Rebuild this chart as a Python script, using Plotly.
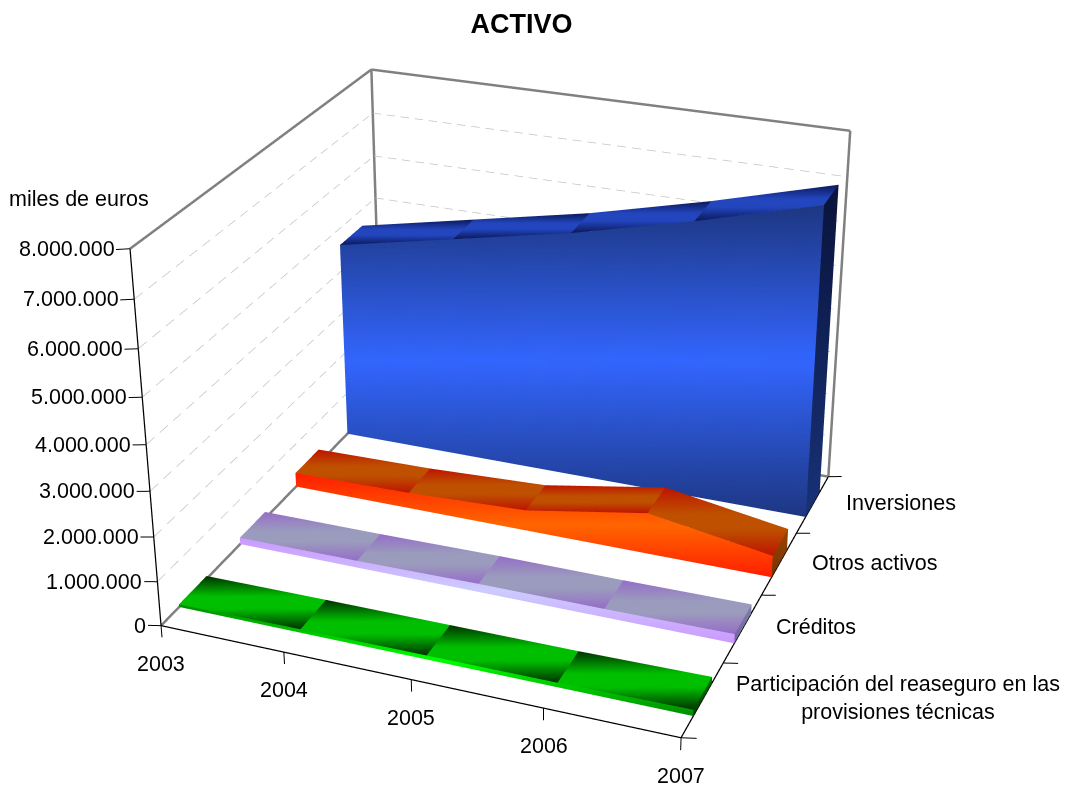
import numpy as np
import plotly.graph_objects as go

years = [2003, 2004, 2005, 2006, 2007]
cats = ["Participación del reaseguro en las<br>provisiones técnicas", "Créditos", "Otros activos", "Inversiones"]
participacion = [60000, 80000, 90000, 100000, 140000]
creditos = [150000, 160000, 190000, 190000, 210000]
otros_activos = [330000, 370000, 480000, 950000, 500000]
inversiones = [4620000, 5160000, 5700000, 6360000, 7100000]
ztick_vals = [0,1e6,2e6,3e6,4e6,5e6,6e6,7e6,8e6]
ztick_text = ["0","1.000.000","2.000.000","3.000.000","4.000.000","5.000.000","6.000.000","7.000.000","8.000.000"]
vals = {0:participacion,1:creditos,2:otros_activos,3:inversiones}

W,H=1066,789
Y0,Y1=0.28,0.72
eye=np.array([1.4652,-3.735,1.9738]); center=np.array([0.0334,0.0214,-0.0481]); b=0.9906; c_=0.751; F=6.0587

def normz(v): return v/np.linalg.norm(v)
def project(P):
    P=np.atleast_2d(P).astype(float)
    w=np.c_[(P[:,0]-2005)/4, b*((P[:,1]-2)/4), c_*((P[:,2]-4e6)/8e6)]
    f=normz(center-eye); s=normz(np.cross(f,[0,0,1])); u=np.cross(s,f)
    r=w-eye; d=r@f
    return np.c_[W/2*(1+F*H/W*(r@s)/d), H/2*(1-F*(r@u)/d)]

Zm=0.35e6
xr=[2003-0.15,2007+0.15]; yr=[-0.15,4.15]; zr=[-Zm,8e6+Zm]
fig=go.Figure()
def seg(p,q,color,w):
    fig.add_trace(go.Scatter3d(x=[p[0],q[0]],y=[p[1],q[1]],z=[p[2],q[2]],mode='lines',line=dict(color=color,width=w),hoverinfo='skip',showlegend=False))
def dashed(p,q,n,color,w):
    # n dashes, each 60 % of its period, broken by None so the line has real gaps
    p=np.array(p,float);q=np.array(q,float)
    xs,ys,zs=[],[],[]
    for i in range(n):
        a=p+(q-p)*(i/n); e=p+(q-p)*((i+0.6)/n)
        xs+=[a[0],e[0],None];ys+=[a[1],e[1],None];zs+=[a[2],e[2],None]
    fig.add_trace(go.Scatter3d(x=xs,y=ys,z=zs,mode='lines',connectgaps=False,line=dict(color=color,width=w),hoverinfo='skip',showlegend=False))
G='#808080'
seg((2003,0,0),(2003,4,0),G,5);seg((2003,4,0),(2007,4,0),G,5);seg((2003,4,0),(2003,4,8e6),G,5)
seg((2003,0,8e6),(2003,4,8e6),G,5);seg((2003,4,8e6),(2007,4,8e6),G,5);seg((2007,4,0),(2007,4,8e6),G,5)
K='#000000'
seg((2003,0,0),(2003,0,8e6),K,2.5);seg((2003,0,0),(2007,0,0),K,2.5);seg((2007,0,0),(2007,4,0),K,2.5)
for t in ztick_vals:
    seg((2003-0.11,0,t-0.06e6),(2003,0,t),K,2)
    if 0<t<8e6:
        dashed((2003,0,t),(2003,4,t),20,'#c4c4c4',1.5);dashed((2003,4,t),(2007,4,t),32,'#c4c4c4',1.5)
for yr_ in years: seg((yr_,0,0),(yr_,0,-0.27e6),K,2)
for k in range(5): seg((2007,k,0),(2007+0.11,k,0.06e6),K,2)

def lerp(stops,t):
    xs=[s[0] for s in stops]
    cs=np.array([s[1] for s in stops],float)
    return [float(np.interp(t,xs,cs[:,i])) for i in range(3)]
def band(dark,bright): return [(0,dark),(0.38,bright),(0.62,bright),(1,dark)]
styles={
 0:dict(top=band((0,50,0),(0,190,0)),front=[(0,(0,140,0)),(0.5,(0,255,0)),(1,(0,140,0))],side=[(0,(0,120,0)),(1,(0,60,0))]),
 1:dict(top=band((150,110,200),(155,155,190)),front=[(0,(204,153,255)),(0.5,(204,204,255)),(1,(204,153,255))],side=[(0,(130,130,170)),(1,(110,100,160))]),
 2:dict(top=band((190,20,0),(190,80,0)),front=[(0,(255,30,0)),(0.5,(255,102,0)),(1,(255,30,0))],side=[(0,(150,70,0)),(1,(120,50,0))]),
 3:dict(top=band((12,25,90),(35,70,190)),front=[(0,(30,55,130)),(0.5,(51,102,255)),(1,(30,55,130))],side=[(0,(10,20,60)),(1,(25,50,120))]),
}
def add_grid(mesh,corners,stops,N=14):
    c=np.array(corners,float)
    us,vs=np.meshgrid(np.linspace(0,1,N+1),np.linspace(0,1,N+1))
    Pg=((1-us)*(1-vs))[...,None]*c[0]+(us*(1-vs))[...,None]*c[1]+((1-us)*vs)[...,None]*c[2]+(us*vs)[...,None]*c[3]
    Pf=Pg.reshape(-1,3)
    sy=project(Pf)[:,1]
    t=(sy-sy.min())/max(sy.max()-sy.min(),1e-6)
    n0=len(mesh['v'])
    mesh['v'].extend(Pf.tolist()); mesh['c'].extend(lerp(stops,x) for x in t)
    for j in range(N):
        for i in range(N):
            a=n0+j*(N+1)+i;b_=a+1;c2=a+N+1;d=c2+1
            mesh['f']+= [(a,b_,c2),(b_,d,c2)]
for k in range(4):
    v=vals[k]; yb=k+Y1; yf=k+Y0; st=styles[k]; m=dict(v=[],c=[],f=[])
    for i in range(4):
        add_grid(m,[(years[i],yb,v[i]),(years[i+1],yb,v[i+1]),(years[i],yf,v[i]),(years[i+1],yf,v[i+1])],st['top'])
    nx=32
    xs=np.linspace(2003,2007,nx+1); ztop=np.interp(xs,years,v); nz=24
    n0=len(m['v'])
    for j in range(nz+1):
        for i in range(nx+1):
            m['v'].append([xs[i],yf,ztop[i]*(1-j/nz)])
    Pf=np.array(m['v'][n0:]); sy=project(Pf)[:,1]
    t=(sy-sy.min())/(sy.max()-sy.min())
    m['c'].extend(lerp(st['front'],x) for x in t)
    for j in range(nz):
        for i in range(nx):
            a=n0+j*(nx+1)+i;b_=a+1;c2=a+nx+1;d=c2+1
            m['f']+=[(a,b_,c2),(b_,d,c2)]
    add_grid(m,[(2007,yb,v[4]),(2007,yf,v[4]),(2007,yb,0),(2007,yf,0)],st['side'])
    V=np.array(m['v']);F_=np.array(m['f'])
    cols=[f"rgb({int(r)},{int(g)},{int(bb)})" for r,g,bb in m['c']]
    fig.add_trace(go.Mesh3d(x=V[:,0],y=V[:,1],z=V[:,2],i=F_[:,0],j=F_[:,1],k=F_[:,2],vertexcolor=cols,flatshading=False,
        lighting=dict(ambient=1,diffuse=0,specular=0,fresnel=0,roughness=1),hoverinfo='skip',showlegend=False))

FONT=dict(family='Liberation Sans, Arial, sans-serif',size=21.5,color='#000')
ann=[]
for t,s in zip(ztick_vals,ztick_text):
    ann.append(dict(x=2003,y=0,z=t,text=s,showarrow=False,xanchor='right',yanchor='middle',xshift=-13,font=FONT))
for yy in years:
    ann.append(dict(x=yy,y=0,z=0,text=str(yy),showarrow=False,xanchor='center',yanchor='middle',yshift=-38,font=FONT))
for k,cn in enumerate(cats):
    ann.append(dict(x=2007,y=k+0.5,z=0,text=cn,showarrow=False,xanchor='left',yanchor='middle',xshift=31,yshift=1,align='center',font=FONT))
axis=dict(visible=False,showbackground=False,showgrid=False,zeroline=False,showspikes=False)
fig.update_layout(width=W,height=H,margin=dict(l=0,r=0,t=0,b=0),paper_bgcolor='white',showlegend=False,
  title=dict(text='<b>ACTIVO</b>',x=521.5/W,xanchor='center',y=1-24/H,yanchor='middle',font=dict(family='Liberation Sans, Arial, sans-serif',size=27,color='#000')),
  annotations=[dict(text='miles de euros',x=79/W,y=1-199/H,xref='paper',yref='paper',xanchor='center',yanchor='middle',showarrow=False,font=FONT)],
  scene=dict(xaxis=dict(range=xr,**axis),yaxis=dict(range=yr,**axis),zaxis=dict(range=zr,**axis),
    domain=dict(x=[0,1],y=[0,1]),aspectmode='manual',
    aspectratio=dict(x=(xr[1]-xr[0])/4,y=b*(yr[1]-yr[0])/4,z=c_*(zr[1]-zr[0])/8e6),
    camera=dict(eye=dict(x=eye[0],y=eye[1],z=eye[2]),center=dict(x=center[0],y=center[1],z=center[2]),up=dict(x=0,y=0,z=1),projection=dict(type='perspective')),
    annotations=ann))
post = """
document.body.style.margin='0';
var gd=document.getElementById('{plot_id}');
var tries=0;
var timer=setInterval(function(){
  tries++;
  var sc=gd._fullLayout&&gd._fullLayout.scene&&gd._fullLayout.scene._scene;
  if(sc&&sc.glplot){ sc.glplot.fovy=%f; sc.glplot.redraw(); if(tries>20) clearInterval(timer);}
  if(tries>100) clearInterval(timer);
},50);
""" % (2*np.arctan(1/F))
fig.write_html("out.html",post_script=post,config=dict(displayModeBar=False))
